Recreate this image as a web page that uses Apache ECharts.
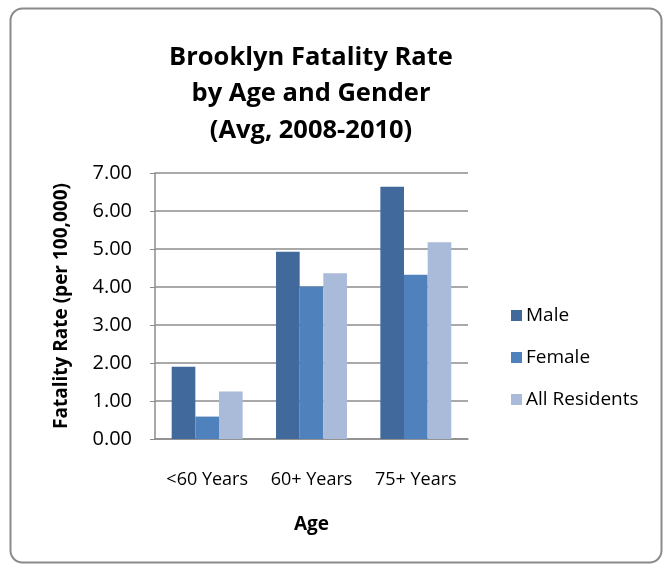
<!DOCTYPE html>
<html>
<head>
<meta charset="utf-8">
<script src="https://cdn.jsdelivr.net/npm/echarts@6/dist/echarts.min.js"></script>
<style>
  html, body { margin: 0; padding: 0; background: #fff; }
  #chart { width: 670px; height: 567px; }
</style>
</head>
<body>
<div id="chart"></div>
<script>
const age_groups = ["<60 Years", "60+ Years", "75+ Years"];
const male_rate = [1.90, 4.93, 6.64];
const female_rate = [0.59, 4.01, 4.32];
const all_rate = [1.25, 4.36, 5.18];
const series_names = ["Male", "Female", "All Residents"];
const series_colors = ["#41699c", "#4f81bd", "#aabad9"];

const font = "'Open Sans', 'Noto Sans', sans-serif";

function makeBar(name, data, color){
    return {
        type: 'bar',
        name: name,
        data: data,
        barGap: '0%',
        barCategoryGap: '32%',
        itemStyle: {color: color}
    };
}

const chart = echarts.init(document.getElementById('chart'), null, {renderer: 'canvas'});

chart.setOption({
    animation: false,
    textStyle: {fontFamily: font},
    title: {
        text: "Brooklyn Fatality Rate\nby Age and Gender\n(Avg, 2008-2010)",
        left: 306, top: 34, textAlign: 'center',
        textStyle: {fontSize: 25.5, fontWeight: 'bold', color: '#000', lineHeight: 36.5, fontFamily: font}
    },
    graphic: [{
        type: 'rect',
        shape: {x: 10.5, y: 8.5, width: 651, height: 554, r: 12},
        style: {fill: 'none', stroke: '#8a8a8a', lineWidth: 2},
        silent: true
    }],
    legend: {
        orient: 'vertical',
        left: 506, top: 301,
        itemWidth: 11, itemHeight: 11,
        itemGap: 23,
        icon: 'rect',
        textStyle: {fontSize: 19, color: '#000', fontFamily: font, padding: [0, 0, 0, -1]}
    },
    grid: {left: 155, right: 202, top: 173, bottom: 128},
    xAxis: {
        type: 'category',
        data: age_groups,
        name: 'Age',
        nameLocation: 'middle',
        nameGap: 76,
        nameTextStyle: {fontSize: 19, fontWeight: 'bold', color: '#000'},
        axisLine: {lineStyle: {color: '#8c8c8c', width: 1.5}},
        axisTick: {show: false},
        axisLabel: {fontSize: 18, color: '#000', margin: 32, interval: 0}
    },
    yAxis: {
        type: 'value',
        min: 0, max: 7, interval: 1,
        name: 'Fatality Rate (per 100,000)',
        nameLocation: 'middle',
        nameGap: 84,
        nameRotate: 90,
        nameTextStyle: {fontSize: 19, fontWeight: 'bold', color: '#000'},
        axisLine: {show: true, lineStyle: {color: '#8c8c8c', width: 1.5}},
        axisTick: {show: true, length: 5, lineStyle: {color: '#8c8c8c'}},
        splitLine: {lineStyle: {color: '#8c8c8c', width: 1.5}},
        axisLabel: {fontSize: 20, color: '#000', margin: 23, formatter: (v) => v.toFixed(2)}
    },
    series: [
        makeBar(series_names[0], male_rate, series_colors[0]),
        makeBar(series_names[1], female_rate, series_colors[1]),
        makeBar(series_names[2], all_rate, series_colors[2])
    ]
});
</script>
</body>
</html>
